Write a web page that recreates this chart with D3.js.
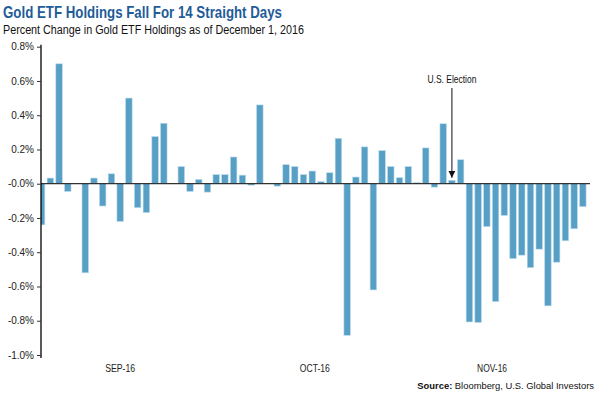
<!DOCTYPE html>
<html><head><meta charset="utf-8">
<script src="https://cdn.jsdelivr.net/npm/d3@7"></script>
<style>
html,body{margin:0;padding:0;background:#fff;}
svg{display:block;}
</style></head>
<body>
<svg id="chart" width="600" height="395"></svg>
<script>
// ---- data ----
const titleText = "Gold ETF Holdings Fall For 14 Straight Days";
const subtitleText = "Percent Change in Gold ETF Holdings as of December 1, 2016";
// daily % change in gold ETF holdings (trading days, Sep 1 – Nov 30 2016); null = no bar
const values = [
  -0.24, 0.033, 0.70, -0.045, null, -0.52, 0.033, -0.13, 0.058, -0.22,
  0.50, -0.14, -0.168, 0.275, 0.353, null, 0.10, -0.045, 0.025, -0.049,
  0.053, 0.053, 0.156, 0.05, -0.008, 0.46, null, -0.014, 0.111, 0.10,
  0.053, 0.074, 0.012, 0.064, 0.265, -0.885, 0.039, 0.215, -0.62, 0.193,
  0.10, 0.035, 0.10, 0.006, 0.209, -0.02, 0.35, 0.02, 0.14, -0.807,
  -0.81, -0.25, -0.688, -0.185, -0.437, -0.417, -0.49, -0.382, -0.713, -0.458,
  -0.333, -0.263, -0.134
];
const categories = values.map((v, i) => i);
const yTicks = [0.8, 0.6, 0.4, 0.2, 0.0, -0.2, -0.4, -0.6, -0.8, -1.0];
const yTickLabels = ["0.8%", "0.6%", "0.4%", "0.2%", "-0.0%", "-0.2%", "-0.4%", "-0.6%", "-0.8%", "-1.0%"];
const xTickLabels = ["SEP-16", "OCT-16", "NOV-16"];
const xTickAt = [9, 31.3, 51.6];
const electionIndex = 47;
const electionLabel = "U.S. Election";

// ---- layout ----
const svg = d3.select("#chart");
const plotLeft = 41, plotRight = 590, plotTop = 46.7, plotBottom = 355;
const step = 8.73, firstCenter = 41.6;

const x = d3.scaleBand()
  .domain(categories)
  .range([firstCenter - step / 2, firstCenter - step / 2 + step * categories.length])
  .paddingInner(0.26).paddingOuter(0.13);
const xc = d => x(d) + x.bandwidth() / 2;
const xLin = d3.scaleLinear().domain([0, categories.length - 1]).range([xc(0), xc(categories.length - 1)]);
const y = d3.scaleLinear().domain([-1.0, 0.8]).range([plotBottom, plotTop]);

// title
svg.append("text").attr("x", 3).attr("y", 17.5)
  .attr("font-family", "'Liberation Sans', Arial, sans-serif")
  .attr("font-weight", "bold").attr("font-size", 16.5).attr("fill", "#1f5c99")
  .attr("textLength", 279).attr("lengthAdjust", "spacingAndGlyphs")
  .text(titleText);
svg.append("text").attr("x", 3).attr("y", 34)
  .attr("font-family", "'Liberation Sans', Arial, sans-serif")
  .attr("font-size", 12.3).attr("fill", "#111")
  .attr("textLength", 301).attr("lengthAdjust", "spacingAndGlyphs")
  .text(subtitleText);

// clip
svg.append("clipPath").attr("id", "clip").append("rect")
  .attr("x", plotLeft).attr("y", 0).attr("width", plotRight - plotLeft + 5).attr("height", 395);

// bars
const bars = values.map((v, i) => ({ i, v })).filter(d => d.v !== null);
svg.append("g").attr("clip-path", "url(#clip)")
  .selectAll("rect").data(bars).join("rect")
  .attr("x", d => x(d.i))
  .attr("width", x.bandwidth())
  .attr("y", d => y(Math.max(0, d.v)))
  .attr("height", d => Math.abs(y(d.v) - y(0)))
  .attr("fill", "#579fc5")
  .attr("stroke", "#b9d9ea").attr("stroke-width", 0.6);

// zero line
svg.append("line").attr("x1", plotLeft).attr("x2", plotRight)
  .attr("y1", y(0)).attr("y2", y(0))
  .attr("stroke", "#333").attr("stroke-width", 1.3);

// y axis
const yAxis = d3.axisLeft(y).tickValues(yTicks).tickSize(4).tickPadding(3)
  .tickFormat((d, i) => yTickLabels[i]);
const gy = svg.append("g").attr("transform", `translate(${plotLeft},0)`).call(yAxis);
gy.select(".domain").attr("d", `M0,${plotTop - 2}V${plotBottom + 3}`).attr("stroke", "#000").attr("stroke-width", 1.3);
gy.selectAll(".tick line").attr("stroke", "#333");
gy.selectAll(".tick text").attr("font-family", "'Liberation Sans', Arial, sans-serif")
  .attr("font-size", 10).attr("fill", "#222");

// x labels
svg.append("g").selectAll("text").data(xTickLabels).join("text")
  .attr("x", (d, i) => xLin(xTickAt[i]))
  .attr("y", 372)
  .attr("text-anchor", "middle")
  .attr("font-family", "'Liberation Sans', Arial, sans-serif")
  .attr("font-size", 10.5).attr("fill", "#222")
  .attr("textLength", 30).attr("lengthAdjust", "spacingAndGlyphs")
  .text(d => d);

// election annotation
const ex = xc(electionIndex);
svg.append("defs").append("marker").attr("id", "arr")
  .attr("viewBox", "0 0 10 10").attr("refX", 10).attr("refY", 5)
  .attr("markerWidth", 7).attr("markerHeight", 7).attr("orient", "auto")
  .append("path").attr("d", "M0,0L10,5L0,10Z").attr("fill", "#111");
svg.append("line").attr("x1", ex).attr("x2", ex)
  .attr("y1", 88).attr("y2", y(values[electionIndex]) - 2.5)
  .attr("stroke", "#111").attr("stroke-width", 1).attr("marker-end", "url(#arr)");
svg.append("text").attr("x", ex).attr("y", 83).attr("text-anchor", "middle")
  .attr("font-family", "'Liberation Sans', Arial, sans-serif")
  .attr("font-size", 11).attr("fill", "#111")
  .attr("textLength", 49).attr("lengthAdjust", "spacingAndGlyphs")
  .text(electionLabel);

// source
const src = svg.append("text").attr("x", 594).attr("y", 389).attr("text-anchor", "end")
  .attr("font-family", "'Liberation Sans', Arial, sans-serif")
  .attr("font-size", 9.4).attr("fill", "#111");
src.append("tspan").attr("font-weight", "bold").text("Source:");
src.append("tspan").text(" Bloomberg, U.S. Global Investors");
</script>
</body></html>
